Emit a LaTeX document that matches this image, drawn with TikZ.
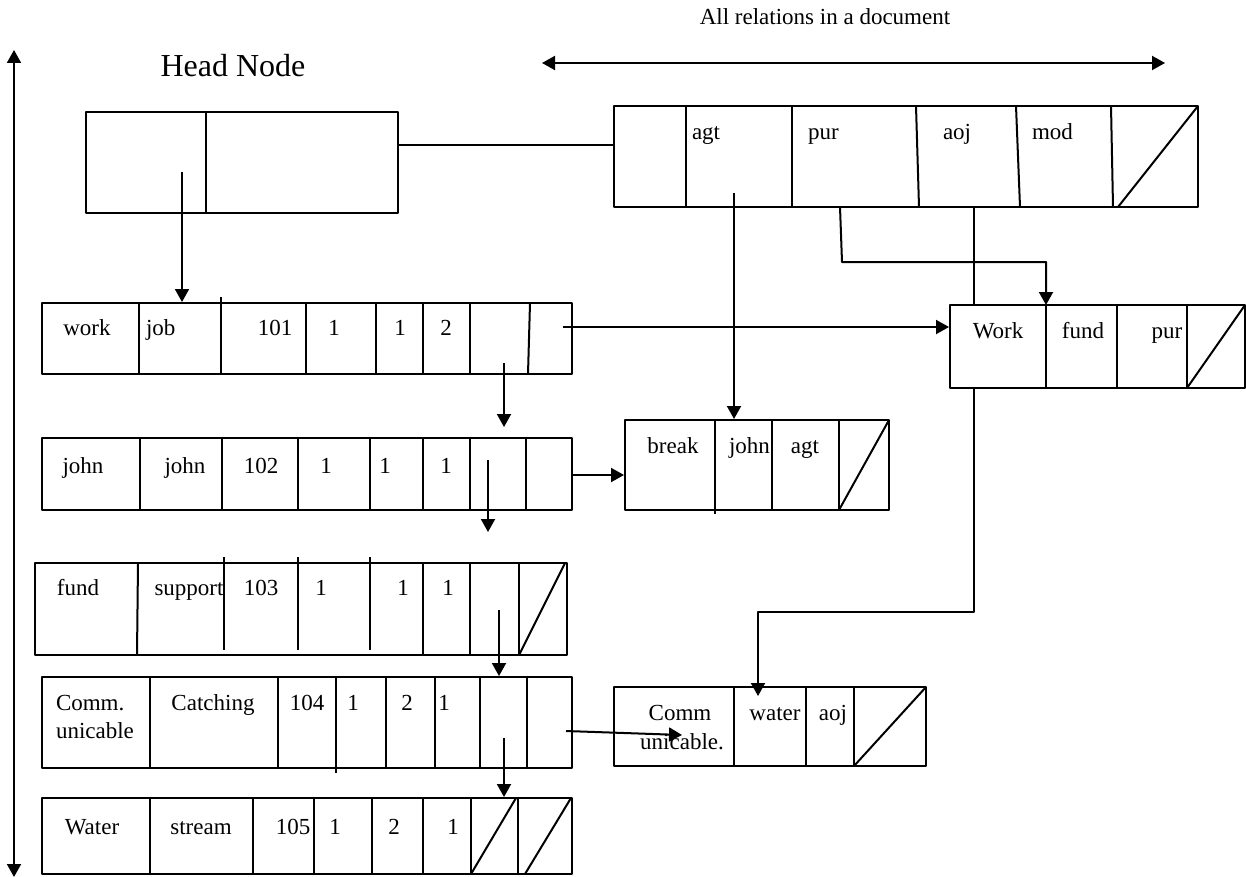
\documentclass[tikz,border=0pt]{standalone}
\usepackage{fontspec}
\setmainfont{Liberation Serif}
\usetikzlibrary{arrows.meta,fit}
\tikzset{
  hop/.style={draw, inner sep=0pt, fit={#1}},
  nhan/.style={inner sep=0pt, anchor=base}
}
\begin{document}
\begin{tikzpicture}[x=0.5pt, y=-0.5pt, line width=1pt, line join=round, >={Triangle[length=6.5pt,width=7pt]}, font=\fontsize{11.5}{14}\selectfont]
\useasboundingbox (0,0) rectangle (1246,877);
% Nút đầu
\node[hop={(86,112) (398,213)}] (hd) {};
\draw (206,112) -- (206,213);
\node[nhan, font=\fontsize{16}{19}\selectfont] (hdl) at (233,77) {Head Node};
% Danh sách quan hệ
\node[hop={(614,106) (1198,207)}] (rel) {};
\foreach \a/\b in {686/686, 792/792, 916/919, 1016/1020, 1111/1113}
  \draw (\a,106) -- (\b,207);
\draw (1118,207) -- (1198,106);
\foreach \t/\x [count=\i] in {agt/691, pur/807, aoj/942, mod/1031}
  \node[nhan, anchor=base west] (rel-\i) at (\x,140) {\t};
\node[nhan] (top) at (825,25) {All relations in a document};
% Các dòng từ
\node[hop={(42,303) (572,374)}] (wrk) {};
\foreach \a/\b in {139/139, 306/306, 376/376, 423/423, 470/470, 530/528}
  \draw (\a,303) -- (\b,374);
\draw (221,297) -- (221,374);
\foreach \t/\x [count=\i] in {work/87, 101/275, 1/334, 1/400, 2/446}
  \node[nhan] (wrk-\i) at (\x,335) {\t};
\node[nhan, anchor=base west] (wrk-j) at (145,335) {job};

\node[hop={(42,438) (572,510)}] (jhn) {};
\foreach \a in {140, 222, 298, 370, 423, 470, 526}
  \draw (\a,438) -- (\a,510);
\foreach \t/\x [count=\i] in {john/83, john/185, 102/261, 1/326, 1/385, 1/446}
  \node[nhan] (jhn-\i) at (\x,473) {\t};

\node[hop={(35,563) (567,655)}] (fnd) {};
\foreach \a/\b in {138/137, 423/423, 470/470, 519/519}
  \draw (\a,563) -- (\b,655);
\foreach \a in {224, 298, 370}
  \draw (\a,557) -- (\a,650);
\draw (519,655) -- (565,563);
\foreach \t/\x [count=\i] in {fund/78, support/189, 103/261, 1/321, 1/403, 1/448}
  \node[nhan] (fnd-\i) at (\x,595) {\t};

\node[hop={(42,677) (572,768)}] (cmm) {};
\foreach \a in {150, 278, 386, 435, 480, 527}
  \draw (\a,677) -- (\a,768);
\draw (336,677) -- (336,773);
\node[nhan, anchor=base west] (cmm-a) at (55,710) {Comm.};
\node[nhan, anchor=base west] (cmm-b) at (55,738) {unicable};
\foreach \t/\x [count=\i] in {Catching/213, 104/307, 1/353, 2/407, 1/444}
  \node[nhan] (cmm-\i) at (\x,710) {\t};

\node[hop={(42,798) (572,874)}] (wtr) {};
\foreach \a in {150, 253, 314, 372, 423, 471, 518}
  \draw (\a,798) -- (\a,874);
\draw (471,874) -- (516,798) (525,874) -- (571,798);
\foreach \t/\x [count=\i] in {Water/92, stream/201, 105/293, 1/335, 2/394, 1/453}
  \node[nhan] (wtr-\i) at (\x,834) {\t};
% Các nút quan hệ
\node[hop={(625,420) (889,510)}] (brk) {};
\draw (715,420) -- (715,514);
\foreach \a in {772, 839}
  \draw (\a,420) -- (\a,510);
\draw (839,510) -- (889,420);
\node[nhan] (brk-1) at (673,453) {break};
\node[nhan, anchor=base west] (brk-2) at (728,453) {john};
\node[nhan] (brk-3) at (805,453) {agt};

\node[hop={(950,305) (1245,388)}] (wkb) {};
\foreach \a in {1046, 1117, 1187}
  \draw (\a,305) -- (\a,388);
\draw (1187,388) -- (1245,305);
\foreach \t/\x [count=\i] in {Work/998, fund/1083, pur/1167}
  \node[nhan] (wkb-\i) at (\x,338) {\t};

\node[hop={(614,687) (926,766)}] (cwb) {};
\foreach \a in {734, 806, 854}
  \draw (\a,687) -- (\a,766);
\draw (854,766) -- (926,687);
\node[nhan] (cwb-1) at (680,720) {Comm};
\node[nhan] (cwb-2) at (682,749) {unicable.};
\node[nhan] (cwb-3) at (775,720) {water};
\node[nhan] (cwb-4) at (833,720) {aoj};
% Mũi tên
\path
(182,172) coordinate (hd-o)
(398,145) coordinate (hd-r)
(734,193) coordinate (rel-a)
(840,207) coordinate (rel-p)
(842,262) coordinate (rel-q)
(1046,305) coordinate (wkb-f)
(974,207) coordinate (rel-o)
(974,612) coordinate (wkb-g)
(758,696) coordinate (cwb-w)
(563,327) coordinate (wrk-r)
(504,363) coordinate (wrk-d)
(572,475) coordinate (jhn-r)
(488,460) coordinate (jhn-d)
(488,532) coordinate (jhn-e)
(499,610) coordinate (fnd-d)
(566,731) coordinate (cmm-r)
(682,735) coordinate (cwb-c)
(504,738) coordinate (cmm-d)
(14,50) coordinate (up)
(14,877) coordinate (dn)
(542,63) coordinate (lf)
(1165,63) coordinate (rt);
\draw[->] (hd-o) -- (hd-o |- wrk.north);
\draw (hd-r) -- (hd-r -| rel.west);
\draw[->] (rel-a) -- (rel-a |- brk.north);
\draw[->] (rel-p) -- (rel-q) -| (wkb-f);
\draw (rel-o) -- (rel-o |- wkb.north);
\draw[->] (rel-o |- wkb.south) -- (wkb-g) -| (cwb-w);
\draw[->] (wrk-r) -- (wrk-r -| wkb.west);
\draw[->, shorten >=5pt] (wrk-d) -- (wrk-d |- jhn.north);
\draw[->] (jhn-r) -- (jhn-r -| brk.west);
\draw[->] (jhn-d) -- (jhn-e);
\draw[->] (fnd-d) -- (fnd-d |- cmm.north);
\draw[->] (cmm-r) -- (cwb-c);
\draw[->] (cmm-d) -- (cmm-d |- wtr.north);
\draw[<->] (up) -- (dn);
\draw[<->] (lf) -- (rt);
\end{tikzpicture}
\end{document}
